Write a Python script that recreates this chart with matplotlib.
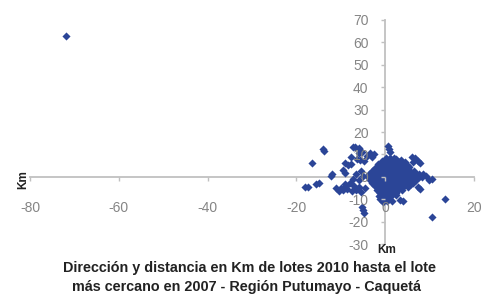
import matplotlib
matplotlib.use("Agg")
import matplotlib.pyplot as plt
from matplotlib import font_manager

names = {f.name for f in font_manager.fontManager.ttflist}
narrow = 'Liberation Sans Narrow' if 'Liberation Sans Narrow' in names else 'Liberation Sans'

# Outliers and scattered points (km east, km north)
outer_x = [-72.0, -14.1, -13.8, -16.5, -11.9, -12.2, -17.3, -18.0, -15.5, -15.0,
           13.4, 10.5, -4.7, -4.9, -5.2, -7.3, -6.8, -6.0, 0.7, 0.9, 1.0,
           6.0, 6.6, 7.3, 6.2, 7.8, 9.8, 10.6, 9.2, 8.5, 7.5, 7.8, 3.4, 4.0,
           -1.1, -0.5, 0.3, 1.5, -9.4, -10.0, -8.5, -7.5, -6.6, -5.5, -4.5, -8.8,
           -7.0, -6.0, -9.4, -9.0, -9.0, -8.3, -7.6, -5.6, -4.8, -6.4, -3.4, -2.6,
           -4.0, -3.0, -6.0, -5.2, -7.8, -6.5, -5.0, -6.0, -7.2, -5.5, 3.5, 4.5,
           2.5, 5.2, 4.8, -1.5, 0.5, 2.5, 5.8, 6.5, 7.0, -8.0, -9.0, -10.4, -11.0]
outer_y = [62.8, 12.3, 11.5, 6.1, 1.3, 0.6, -4.3, -4.5, -3.0, -2.6,
           -9.8, -18.0, -16.2, -14.7, -13.5, 13.5, 13.2, 12.8, 13.8, 12.5, 11.0,
           9.0, 8.5, 7.3, 6.5, 6.0, -1.3, -0.9, 0.4, 1.2, -4.3, -5.5, -10.2, -10.8,
           -10.0, -11.0, -10.5, -10.8, -5.8, -4.9, -5.5, -6.2, -5.8, -6.5, -5.0, -4.2,
           -3.9, -4.5, 2.9, 1.8, 6.0, 5.2, 5.8, 7.5, 6.9, 8.2, 10.7, 10.0,
           9.5, 8.8, 10.5, 11.2, 9.0, 1.2, 0.5, -1.5, -1.0, 2.5, 7.5, 6.8,
           8.2, 5.0, 3.9, -8.5, -9.0, -8.0, -3.0, -2.0, -0.5, -2.5, -3.0, -6.2, -5.1]

# Dense central cluster
core_x = [0.2, 1.1, 2.0,
          -0.8, 0.3, 1.2, 2.1, 3.0,
          -1.6, -0.6, 0.4, 1.3, 2.3, 3.2, 4.0,
          -2.3, -1.3, -0.4, 0.6, 1.5, 2.5, 3.4, 4.3, 5.3,
          -3.0, -2.0, -1.1, -0.1, 0.8, 1.8, 2.7, 3.7, 4.6, 5.6, 6.4,
          -3.6, -2.6, -1.7, -0.7, 0.2, 1.2, 2.1, 3.1, 4.0, 5.0, 5.9, 6.9, 7.7,
          -3.9, -2.9, -2.0, -1.0, 0.0, 0.9, 1.9, 2.8, 3.8, 4.7, 5.7, 6.6, 7.6, 8.4,
          -3.5, -2.5, -1.6, -0.6, 0.3, 1.3, 2.2, 3.2, 4.1, 5.1, 6.0, 7.0,
          -3.0, -2.1, -1.2, -0.2, 0.7, 1.7, 2.6, 3.6, 4.5, 5.5, 6.3,
          -2.4, -1.5, -0.5, 0.4, 1.4, 2.3, 3.3, 4.2, 5.1,
          -1.8, -0.9, 0.1, 1.0, 2.0, 2.9, 3.8,
          -1.2, -0.3, 0.7, 1.6, 2.5,
          -0.6, 0.4, 1.3,
          0.1, 0.9]
core_y = [8.6, 8.4, 8.5,
          7.1, 6.9, 7.0, 7.2, 6.8,
          5.7, 5.5, 5.6, 5.8, 5.4, 5.6, 5.5,
          4.2, 4.3, 4.1, 4.2, 4.4, 4.0, 4.2, 4.1, 4.3,
          2.8, 2.9, 2.7, 2.8, 3.0, 2.6, 2.8, 2.9, 2.7, 2.8, 2.6,
          1.4, 1.5, 1.3, 1.4, 1.6, 1.2, 1.4, 1.5, 1.3, 1.4, 1.5, 1.3, 1.2,
          0.0, 0.1, -0.1, 0.0, 0.2, -0.2, 0.0, 0.1, -0.1, 0.0, 0.1, -0.1, 0.0, -0.2,
          -1.4, -1.3, -1.5, -1.4, -1.2, -1.6, -1.4, -1.3, -1.5, -1.4, -1.3, -1.5,
          -2.8, -2.7, -2.9, -2.8, -2.6, -3.0, -2.8, -2.7, -2.9, -2.8, -2.7,
          -4.2, -4.1, -4.3, -4.2, -4.0, -4.4, -4.2, -4.1, -4.3,
          -5.6, -5.5, -5.7, -5.6, -5.4, -5.8, -5.6,
          -7.0, -7.1, -6.9, -7.0, -7.2,
          -8.4, -8.5, -8.3,
          -9.8, -9.7]

x_ticks = [-80, -60, -40, -20, 0, 20]
y_ticks = [-30, -20, -10, 0, 10, 20, 30, 40, 50, 60, 70]
title_lines = ["Dirección y distancia en Km de lotes 2010 hasta el lote",
               "más cercano en 2007 - Región Putumayo - Caquetá"]
axis_label = "Km"

blue = '#2B4597'
gray = '#858585'

fig = plt.figure(figsize=(4.82, 2.97), dpi=100)
ax = fig.add_axes([0.0622, 0.1768, 0.9212, 0.7575])
ax.set_xlim(-80, 20)
ax.set_ylim(-30, 70)

ax.scatter(outer_x + core_x, outer_y + core_y, marker='D', s=17, color=blue,
           linewidths=0, zorder=1)

for s in ['top', 'right']:
    ax.spines[s].set_visible(False)
ax.spines['left'].set_position(('data', 0))
ax.spines['bottom'].set_position(('data', 0))
for s in ['left', 'bottom']:
    ax.spines[s].set_color('#c0c0c0')
    ax.spines[s].set_linewidth(1.3)
    ax.spines[s].set_zorder(0.5)

ax.set_xticks(x_ticks)
ax.set_yticks(y_ticks)
ax.set_xticklabels([str(v) for v in x_ticks])
ax.set_yticklabels([str(v) for v in y_ticks])
ax.tick_params(axis='x', direction='out', length=3, width=1, color='#c0c0c0',
               labelcolor=gray, labelsize=10, pad=14)
ax.tick_params(axis='y', direction='out', length=3, width=1, color='#c0c0c0',
               labelcolor=gray, labelsize=10, pad=9)
for lab in ax.get_xticklabels() + ax.get_yticklabels():
    lab.set_family([narrow, 'DejaVu Sans'])
for lab in ax.get_xticklabels():
    lab.set_clip_on(False)

fig.text(23 / 482, 1 - 180 / 297, axis_label, rotation=90, ha='center', va='center',
         fontsize=8.5, fontweight='bold', color='#222222', family=[narrow, 'DejaVu Sans'])
fig.text(377 / 482, 1 - 250 / 297, axis_label, ha='left', va='center',
         fontsize=8.5, fontweight='bold', color='#222222', family=[narrow, 'DejaVu Sans'])

fig.text(249 / 482, 1 - 268 / 297, title_lines[0], ha='center', va='center',
         fontsize=10.4, fontweight='bold', color='#222222', family=[narrow, 'DejaVu Sans'])
fig.text(247 / 482, 1 - 287 / 297, title_lines[1], ha='center', va='center',
         fontsize=10.4, fontweight='bold', color='#222222', family=[narrow, 'DejaVu Sans'])

fig.savefig('out.png', dpi=100)
